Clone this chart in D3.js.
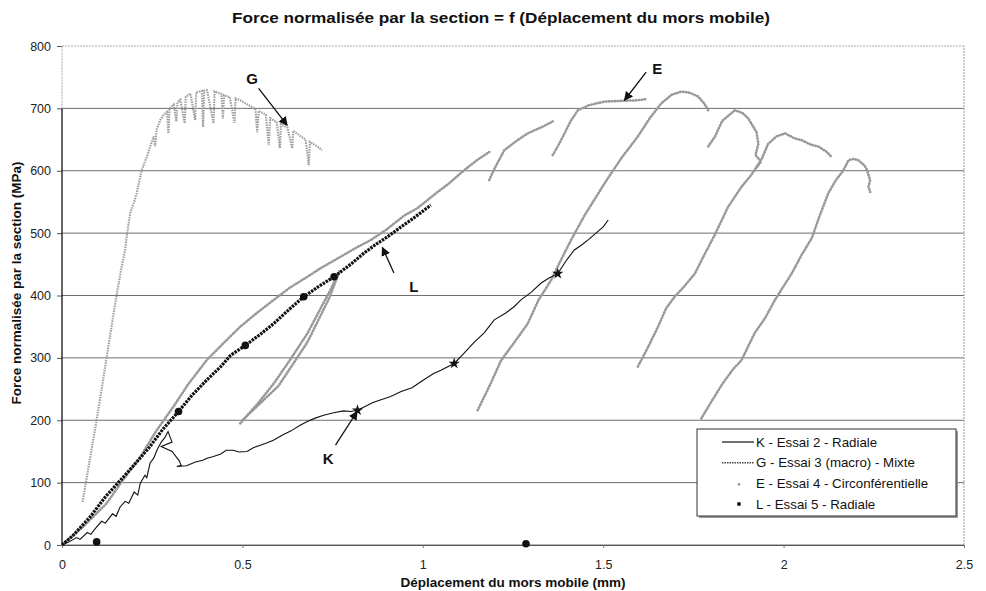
<!DOCTYPE html>
<html>
<head>
<meta charset="utf-8">
<script src="https://cdn.jsdelivr.net/npm/d3@7"></script>
<style>
body { margin: 0; background: #fff; }
text { font-family: "Liberation Sans", Arial, sans-serif; }
</style>
</head>
<body>
<svg id="chart"></svg>
<script>
// values (x in mm, y in MPa)
var xTicks = [0, 0.5, 1, 1.5, 2, 2.5]
var yTicks = [0, 100, 200, 300, 400, 500, 600, 700, 800]

// K - Essai 2 - Radiale
var kData = [[0,0],[0.02,5],[0.04,12],[0.05,9],[0.07,20],[0.08,17],[0.096,29],[0.11,38],[0.12,35],[0.14,50],
	[0.15,46],[0.161,61],[0.175,70],[0.185,67],[0.2,85],[0.21,80],[0.217,99],[0.23,112],[0.235,108],[0.244,131],
	[0.255,140],[0.263,152],[0.275,165],[0.285,172],[0.294,182],[0.305,165],[0.275,158],[0.305,150],[0.325,135],
	[0.33,128],[0.318,126],[0.345,127],[0.37,133],[0.39,136],[0.402,139],[0.42,142],[0.44,146],[0.455,152],
	[0.475,152],[0.49,149],[0.513,150],[0.53,156],[0.55,160],[0.565,163],[0.586,168],[0.61,176],[0.635,183],
	[0.66,192],[0.68,198],[0.7,203],[0.725,208],[0.753,212],[0.78,215],[0.8,214],[0.819,216],[0.84,222],
	[0.86,228],[0.88,232],[0.911,238],[0.94,246],[0.97,252],[1.003,265],[1.03,275],[1.05,280],[1.087,291],
	[1.11,305],[1.142,325],[1.17,340],[1.198,361],[1.23,372],[1.253,382],[1.272,393],[1.3,405],[1.328,420],
	[1.35,428],[1.374,435],[1.4,458],[1.42,473],[1.44,481],[1.46,490],[1.48,500],[1.5,510],[1.514,521]]
var kMarks = [[0.819,216],[1.087,291],[1.374,435]]

// G - Essai 3 (macro) - Mixte
var gData = [[0.057,69],[0.075,130],[0.096,200],[0.11,250],[0.124,302],[0.14,360],[0.152,403],[0.165,445],
	[0.175,473],[0.178,489],[0.189,532],[0.2,550],[0.207,564],[0.215,585],[0.221,601],[0.228,612],[0.235,622],
	[0.245,640],[0.254,655],[0.258,639],[0.262,665],[0.272,681],[0.282,690],[0.291,694],[0.295,660],[0.298,700],
	[0.31,706],[0.317,679],[0.32,710],[0.328,714],[0.34,676],[0.343,718],[0.356,724],[0.369,681],[0.372,726],
	[0.388,728],[0.391,670],[0.394,728],[0.402,729],[0.42,676],[0.423,727],[0.442,723],[0.446,684],[0.449,721],
	[0.465,718],[0.478,677],[0.481,716],[0.494,713],[0.515,706],[0.536,699],[0.541,662],[0.545,696],[0.565,690],
	[0.573,641],[0.577,684],[0.595,678],[0.604,636],[0.607,675],[0.625,669],[0.638,636],[0.641,664],[0.66,656],
	[0.675,650],[0.684,609],[0.687,646],[0.705,640],[0.721,633]]

// E - Essai 4 - Circonférentielle (several load / unload runs)
var eRun1 = [[0,0],[0.06,30],[0.124,67],[0.17,105],[0.217,141],[0.26,182],[0.309,222],[0.35,258],[0.402,297],
	[0.45,325],[0.494,350],[0.54,372],[0.587,393],[0.63,412],[0.68,430],[0.72,445],[0.772,462],[0.82,478],
	[0.856,489],[0.9,506],[0.948,528],[0.985,540],[1.041,566],[1.069,578],[1.115,601],[1.15,617],[1.184,630]]
var eRun2 = [[1.184,585],[1.2,605],[1.226,633],[1.26,648],[1.291,660],[1.33,670],[1.36,679]]
var eRun3 = [[1.36,625],[1.375,640],[1.393,660],[1.41,680],[1.43,697],[1.46,705],[1.504,711],[1.55,712],
	[1.596,713],[1.62,715]]
var eLoop = [[0.494,195],[0.54,225],[0.587,259],[0.63,295],[0.68,339],[0.71,372],[0.744,409],[0.77,440],
	[0.74,395],[0.68,325],[0.6,255],[0.5,200]]
var eRun4 = [[1.152,216],[1.185,255],[1.217,296],[1.25,322],[1.291,355],[1.32,392],[1.356,425],[1.383,457],
	[1.411,489],[1.45,530],[1.504,580],[1.55,620],[1.596,655],[1.63,685],[1.661,708],[1.69,722],[1.717,727],
	[1.74,725],[1.763,719],[1.78,708],[1.791,697]]
var eRun5 = [[1.791,639],[1.81,655],[1.83,680],[1.865,697],[1.885,693],[1.902,684],[1.925,662],[1.93,643],
	[1.922,625],[1.938,615],[1.924,605],[1.94,620],[1.957,643],[1.98,655],[2.004,660],[2.03,652],[2.05,649],
	[2.075,642],[2.096,639],[2.12,630],[2.133,622]]
var eRun6 = [[1.596,286],[1.625,318],[1.652,350],[1.675,380],[1.698,398],[1.725,415],[1.754,435],[1.78,465],
	[1.809,497],[1.846,542],[1.883,574],[1.91,593],[1.93,610]]
var eRun7 = [[1.772,203],[1.8,230],[1.83,258],[1.86,282],[1.883,296],[1.92,340],[1.95,365],[1.976,393],
	[2.0,415],[2.022,435],[2.05,465],[2.078,492],[2.1,528],[2.124,564],[2.145,585],[2.166,601],[2.18,617],
	[2.195,619],[2.207,617],[2.225,608],[2.231,601],[2.24,585],[2.235,574],[2.24,566]]
var eRuns = [eRun1, eRun2, eRun3, eLoop, eRun4, eRun5, eRun6, eRun7]

// L - Essai 5 - Radiale
var lData = [[0,0],[0.03,15],[0.078,45],[0.12,77],[0.17,109],[0.21,135],[0.244,158],[0.28,186],[0.323,214],
	[0.36,240],[0.402,265],[0.44,286],[0.467,304],[0.508,320],[0.55,338],[0.587,355],[0.63,378],[0.67,398],
	[0.71,414],[0.754,430],[0.8,450],[0.837,468],[0.87,482],[0.902,494],[0.935,508],[0.967,521],[1.0,535],
	[1.022,545]]
var lStray = [[0.096,5],[1.286,2]]
var lMarks = [[0.323,214],[0.508,320],[0.67,398],[0.754,430]]

var legendLabels = ["K - Essai 2 - Radiale", "G - Essai 3 (macro) - Mixte", "E - Essai 4 - Circonférentielle", "L - Essai 5 - Radiale"]

// arrows: label position, arrow start, arrow tip
var callouts = [
	{ name: "G", at: [0.527, 748], from: [0.545, 732], to: [0.624, 673] },
	{ name: "E", at: [1.65, 764], from: [1.619, 758], to: [1.559, 713] },
	{ name: "L", at: [0.975, 414], from: [0.92, 436], to: [0.888, 477] },
	{ name: "K", at: [0.738, 139], from: [0.758, 160], to: [0.818, 214] }
]

var width = 986
var height = 591
var margin = { top: 46, right: 22, bottom: 46, left: 62 }

var svg = d3.select("#chart").attr("width", width).attr("height", height)

var x = d3.scaleLinear().domain([0, 2.5]).range([margin.left, width - margin.right])
var y = d3.scaleLinear().domain([0, 800]).range([height - margin.bottom, margin.top])

var defs = svg.append("defs")
defs.append("marker")
	.attr("id", "arrow")
	.attr("viewBox", "0 0 10 10")
	.attr("refX", 9)
	.attr("refY", 5)
	.attr("markerWidth", 7)
	.attr("markerHeight", 7)
	.attr("orient", "auto")
	.append("path")
	.attr("d", "M0,0 L10,5 L0,10 Z")
	.attr("fill", "#111")

// gridlines
svg.append("g")
	.selectAll("line")
	.data(yTicks)
	.enter()
	.append("line")
	.attr("x1", x(0))
	.attr("x2", x(2.5))
	.attr("y1", d => y(d))
	.attr("y2", d => y(d))
	.attr("stroke", d => (d === 800 ? "#aaa" : "#6e6e6e"))
	.attr("stroke-width", 1)
	.attr("stroke-dasharray", d => (d === 800 ? "2,1" : null))

// right border of the plot area
svg.append("line")
	.attr("x1", x(2.5)).attr("x2", x(2.5))
	.attr("y1", y(0)).attr("y2", y(800))
	.attr("stroke", "#999")
	.attr("stroke-dasharray", "2,1")

// y axis
var yAxis = svg.append("g")
	.attr("transform", "translate(" + x(0) + ",0)")
	.call(d3.axisLeft(y).tickValues(yTicks).tickSize(5).tickPadding(6).tickFormat(d3.format("d")))
yAxis.select(".domain").remove()
yAxis.selectAll("line").attr("stroke", "#555")
yAxis.selectAll("text").attr("font-size", 12.5).attr("fill", "#222")
svg.append("line")
	.attr("x1", x(0)).attr("x2", x(0))
	.attr("y1", y(0)).attr("y2", y(700))
	.attr("stroke", "#111").attr("stroke-width", 1.3)
svg.append("line")
	.attr("x1", x(0)).attr("x2", x(0))
	.attr("y1", y(700)).attr("y2", y(800))
	.attr("stroke", "#aaa").attr("stroke-dasharray", "2,1")

// x axis
var xAxis = svg.append("g")
	.attr("transform", "translate(0," + y(0) + ")")
	.call(d3.axisBottom(x).tickValues(xTicks).tickSize(3).tickPadding(12).tickFormat(d => d))
xAxis.select(".domain").attr("stroke", "#555")
xAxis.selectAll("line").attr("stroke", "#777")
xAxis.selectAll("text").attr("font-size", 12.5).attr("fill", "#222")

var line = d3.line().x(d => x(d[0])).y(d => y(d[1]))

// E
svg.append("g")
	.selectAll("path")
	.data(eRuns)
	.enter()
	.append("path")
	.attr("d", line)
	.attr("fill", "none")
	.attr("stroke", "#999")
	.attr("stroke-width", 2.6)
	.attr("stroke-linecap", "round")
	.attr("stroke-dasharray", "0.6,2.4")

// G
svg.append("path")
	.datum(gData)
	.attr("d", line)
	.attr("fill", "none")
	.attr("stroke", "#a0a0a0")
	.attr("stroke-width", 2.2)
	.attr("stroke-dasharray", "1.5,1")

// L
svg.append("path")
	.datum(lData)
	.attr("d", line)
	.attr("fill", "none")
	.attr("stroke", "#111")
	.attr("stroke-width", 3.2)
	.attr("stroke-dasharray", "2.5,1")
svg.append("g")
	.selectAll("circle")
	.data(lMarks.concat(lStray))
	.enter()
	.append("circle")
	.attr("cx", d => x(d[0]))
	.attr("cy", d => y(d[1]))
	.attr("r", 3.8)
	.attr("fill", "#111")

// K
svg.append("path")
	.datum(kData)
	.attr("d", line)
	.attr("fill", "none")
	.attr("stroke", "#111")
	.attr("stroke-width", 1.1)
svg.append("g")
	.selectAll("path")
	.data(kMarks)
	.enter()
	.append("path")
	.attr("d", d3.symbol().type(d3.symbolStar).size(40))
	.attr("transform", d => "translate(" + x(d[0]) + "," + y(d[1]) + ")")
	.attr("fill", "#111")

// callouts
var co = svg.append("g")
co.selectAll("line")
	.data(callouts)
	.enter()
	.append("line")
	.attr("x1", d => x(d.from[0]))
	.attr("y1", d => y(d.from[1]))
	.attr("x2", d => x(d.to[0]))
	.attr("y2", d => y(d.to[1]))
	.attr("stroke", "#111")
	.attr("stroke-width", 1.3)
	.attr("marker-end", "url(#arrow)")
co.selectAll("text")
	.data(callouts)
	.enter()
	.append("text")
	.attr("x", d => x(d.at[0]))
	.attr("y", d => y(d.at[1]))
	.attr("dy", "0.35em")
	.attr("text-anchor", "middle")
	.attr("font-size", 15)
	.attr("font-weight", "bold")
	.attr("fill", "#111")
	.text(d => d.name)

// legend
var lg = svg.append("g").attr("transform", "translate(697,429)")
lg.append("rect")
	.attr("x", 2).attr("y", 2)
	.attr("width", 259).attr("height", 87)
	.attr("fill", "#999")
lg.append("rect")
	.attr("width", 259).attr("height", 87)
	.attr("fill", "#fff")
	.attr("stroke", "#333")
	.attr("stroke-width", 1)

var row = lg.selectAll(".row")
	.data(legendLabels)
	.enter()
	.append("g")
	.attr("class", "row")
	.attr("transform", (d, i) => "translate(0," + (13 + i * 20.7) + ")")
row.append("text")
	.attr("x", 59)
	.attr("dy", "0.35em")
	.attr("font-size", 13.3)
	.attr("fill", "#111")
	.text(d => d)

lg.append("line").attr("x1", 25).attr("x2", 57).attr("y1", 13).attr("y2", 13)
	.attr("stroke", "#111").attr("stroke-width", 1.2)
lg.append("line").attr("x1", 25).attr("x2", 57).attr("y1", 33.7).attr("y2", 33.7)
	.attr("stroke", "#444").attr("stroke-width", 1.6).attr("stroke-dasharray", "1.5,1")
lg.append("circle").attr("cx", 42).attr("cy", 55.4).attr("r", 1.3).attr("fill", "#999")
lg.append("circle").attr("cx", 42).attr("cy", 75.1).attr("r", 2).attr("fill", "#111")

// titles
svg.append("text")
	.attr("x", 501)
	.attr("y", 23)
	.attr("text-anchor", "middle")
	.attr("font-size", 15.5)
	.attr("font-weight", "bold")
	.attr("fill", "#111")
	.attr("textLength", 538)
	.attr("lengthAdjust", "spacingAndGlyphs")
	.text("Force normalisée par la section = f (Déplacement du mors mobile)")

svg.append("text")
	.attr("x", 513)
	.attr("y", 587)
	.attr("text-anchor", "middle")
	.attr("font-size", 13.5)
	.attr("font-weight", "bold")
	.attr("fill", "#111")
	.text("Déplacement du mors mobile (mm)")

svg.append("text")
	.attr("transform", "translate(21,283) rotate(-90)")
	.attr("text-anchor", "middle")
	.attr("font-size", 13.5)
	.attr("font-weight", "bold")
	.attr("fill", "#111")
	.text("Force normalisée par la section  (MPa)")
</script>
</body>
</html>
